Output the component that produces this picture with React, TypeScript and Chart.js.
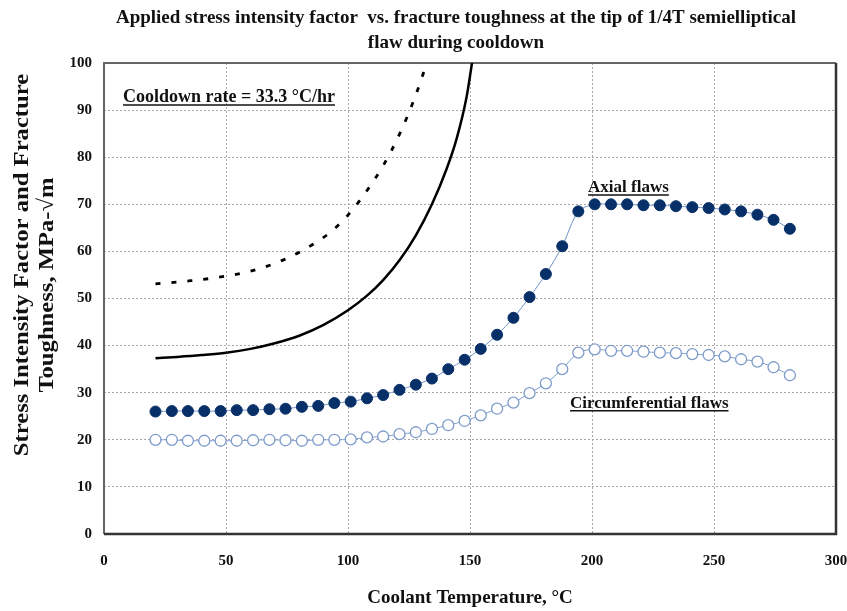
import React, { useEffect, useRef } from 'react';
import { Chart, registerables } from 'chart.js';

Chart.register(...registerables);

// ---- data ----
const TITLE_LINES = [
  'Applied stress intensity factor  vs. fracture toughness at the tip of 1/4T semielliptical',
  'flaw during cooldown',
];
const X_TITLE = 'Coolant Temperature, °C';
const Y_TITLE = ['Stress Intensity Factor and Fracture', 'Toughness, MPa-√m'];

const temps = [
  21.1, 27.8, 34.4, 41.1, 47.8, 54.4, 61.1, 67.8, 74.4, 81.1,
  87.8, 94.4, 101.1, 107.8, 114.4, 121.1, 127.8, 134.4, 141.1, 147.8,
  154.4, 161.1, 167.8, 174.4, 181.1, 187.8, 194.4, 201.1, 207.8, 214.4,
  221.1, 227.8, 234.4, 241.1, 247.8, 254.4, 261.1, 267.8, 274.4, 281.1,
];
const axialK = [
  26.0, 26.1, 26.1, 26.1, 26.1, 26.3, 26.3, 26.5, 26.6, 27.0,
  27.2, 27.8, 28.1, 28.8, 29.5, 30.6, 31.7, 33.0, 35.0, 37.0,
  39.3, 42.3, 45.9, 50.3, 55.2, 61.1, 68.5, 70.0, 70.0, 70.0,
  69.8, 69.8, 69.6, 69.4, 69.2, 68.9, 68.5, 67.8, 66.7, 64.8,
];
const circK = [
  20.0, 20.0, 19.8, 19.8, 19.8, 19.8, 19.9, 20.0, 19.9, 19.8,
  20.0, 20.0, 20.1, 20.5, 20.7, 21.2, 21.6, 22.3, 23.1, 24.0,
  25.2, 26.6, 27.9, 29.9, 32.0, 35.0, 38.5, 39.2, 38.9, 38.9,
  38.7, 38.5, 38.4, 38.2, 38.0, 37.7, 37.1, 36.6, 35.4, 33.7,
];
const kicT = [21.1, 30, 40, 50, 60, 70, 80, 90, 100, 107.8, 114.4, 121.1, 127.8, 134.4, 140.4, 144.5, 148.6, 151, 153];
const kicK = [37.3, 37.6, 38.0, 38.5, 39.3, 40.5, 42.1, 44.4, 47.5, 50.6, 53.9, 58.1, 63.4, 70.0, 77.5, 83.9, 92.8, 100.5, 106];
const kiaT = [21.1, 34, 47, 60, 73.6, 87.8, 94, 100, 106.8, 114.5, 121.3, 127.5, 132.5, 134];
const kiaK = [53.1, 53.7, 54.5, 55.8, 58.2, 62.2, 64.6, 67.7, 72.2, 78.3, 85.1, 92.8, 100.3, 102.6];

const NOTES = [
  { text: 'Cooldown rate = 33.3 °C/hr', x: 7.8, y: 93, size: 18 },
  { text: 'Axial flaws', x: 198.4, y: 73.8, size: 17 },
  { text: 'Circumferential flaws', x: 191, y: 28, size: 17 },
];

const X_MIN = 0, X_MAX = 300, X_STEP = 50;
const Y_MIN = 0, Y_MAX = 100, Y_STEP = 10;

const SERIF = "'Liberation Serif', 'Times New Roman', serif";

const pts = (xs: number[], ys: number[]) => xs.map((x, i) => ({ x, y: ys[i] }));

const decorPlugin = {
  id: 'decor',
  beforeDatasetsDraw(chart: any) {
    const { ctx, chartArea: a } = chart;
    ctx.save();
    ctx.lineWidth = 2;
    ctx.strokeStyle = '#666';
    ctx.beginPath();
    ctx.moveTo(a.left, a.bottom);
    ctx.lineTo(a.left, a.top);
    ctx.lineTo(a.right, a.top);
    ctx.stroke();
    ctx.strokeStyle = '#333';
    ctx.lineWidth = 2.5;
    ctx.beginPath();
    ctx.moveTo(a.right, a.top);
    ctx.lineTo(a.right, a.bottom);
    ctx.lineTo(a.left, a.bottom);
    ctx.stroke();
    ctx.restore();
  },
  afterDraw(chart: any) {
    const { ctx } = chart;
    const xs = chart.scales.x;
    const ys = chart.scales.y;
    ctx.save();
    ctx.fillStyle = '#111';
    ctx.textAlign = 'center';
    ctx.textBaseline = 'middle';
    ctx.font = `bold 19px ${SERIF}`;
    TITLE_LINES.forEach((t, i) => ctx.fillText(t, 456, 18 + i * 25));

    // y axis title (two lines, rotated)
    ctx.font = `bold 22px ${SERIF}`;
    const yCenters = [[22, 265], [47, 285]];
    Y_TITLE.forEach((t, i) => {
      ctx.save();
      ctx.translate(yCenters[i][0], yCenters[i][1]);
      ctx.rotate(-Math.PI / 2);
      ctx.scale(1.12, 1);
      ctx.fillText(t, 0, 0);
      ctx.restore();
    });

    ctx.textAlign = 'left';
    ctx.textBaseline = 'alphabetic';
    for (const n of NOTES) {
      ctx.font = `bold ${n.size}px ${SERIF}`;
      const px = xs.getPixelForValue(n.x);
      const py = ys.getPixelForValue(n.y) + n.size * 0.33;
      ctx.fillText(n.text, px, py);
      const w = ctx.measureText(n.text).width;
      ctx.strokeStyle = '#111';
      ctx.lineWidth = 1.5;
      ctx.beginPath();
      ctx.moveTo(px, py + 3);
      ctx.lineTo(px + w, py + 3);
      ctx.stroke();
    }
    ctx.restore();
  },
};

export default function App() {
  const ref = useRef<HTMLCanvasElement>(null);
  useEffect(() => {
    document.body.style.margin = '0';
    const chart = new Chart(ref.current as HTMLCanvasElement, {
      type: 'line',
      data: {
        datasets: [
          {
            label: 'KIc',
            data: pts(kicT, kicK),
            borderColor: '#000',
            borderWidth: 2.5,
            pointRadius: 0,
            cubicInterpolationMode: 'monotone',
            fill: false,
          },
          {
            label: 'KIa',
            data: pts(kiaT, kiaK),
            borderColor: '#000',
            borderWidth: 2.8,
            borderDash: [5, 11],
            pointRadius: 0,
            cubicInterpolationMode: 'monotone',
            fill: false,
          },
          {
            label: 'Axial flaws',
            data: pts(temps, axialK),
            borderColor: '#6f92c6',
            borderWidth: 1,
            pointRadius: 5.5,
            pointBackgroundColor: '#073068',
            pointBorderColor: '#073068',
            pointBorderWidth: 1,
            tension: 0.3,
            fill: false,
          },
          {
            label: 'Circumferential flaws',
            data: pts(temps, circK),
            borderColor: '#7e9ccb',
            borderWidth: 1,
            pointRadius: 5.5,
            pointBackgroundColor: '#ffffff',
            pointBorderColor: '#7e9ccb',
            pointBorderWidth: 1.3,
            tension: 0.3,
            fill: false,
          },
        ],
      },
      options: {
        responsive: false,
        animation: false,
        devicePixelRatio: 1,
        layout: { padding: { top: 63, right: 11, bottom: 0, left: 0 } },
        plugins: {
          legend: { display: false },
          tooltip: { enabled: false },
          title: { display: false },
        },
        scales: {
          x: {
            type: 'linear',
            min: X_MIN,
            max: X_MAX,
            ticks: {
              stepSize: X_STEP,
              padding: 18,
              color: '#111',
              font: { family: SERIF, size: 15, weight: 'bold' },
            },
            grid: { color: '#a8a8a8', lineWidth: 1, drawTicks: false },
            border: { display: false, dash: [2, 2] },
            title: {
              display: true,
              text: X_TITLE,
              color: '#111',
              font: { family: SERIF, size: 19, weight: 'bold' },
              padding: { top: 0, bottom: 2 },
            },
            afterFit: (s: any) => {
              s.height = 77;
              s.paddingLeft = 0;
              s.paddingRight = 0;
            },
          },
          y: {
            type: 'linear',
            min: Y_MIN,
            max: Y_MAX,
            ticks: {
              stepSize: Y_STEP,
              padding: 12,
              color: '#111',
              font: { family: SERIF, size: 15, weight: 'bold' },
            },
            grid: { color: '#a8a8a8', lineWidth: 1, drawTicks: false },
            border: { display: false, dash: [2, 2] },
            title: { display: false },
            afterFit: (s: any) => {
              s.width = 104;
              s.paddingTop = 0;
              s.paddingBottom = 0;
            },
          },
        },
      } as any,
      plugins: [decorPlugin],
    });
    return () => chart.destroy();
  }, []);
  return (
    <div style={{ width: 847, height: 611 }}>
      <canvas ref={ref} width={847} height={611} />
    </div>
  );
}
